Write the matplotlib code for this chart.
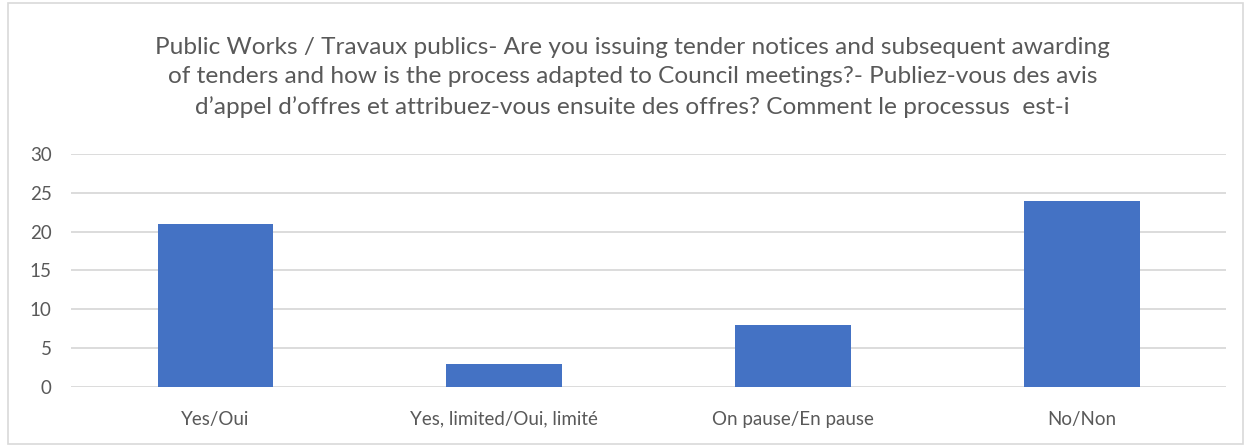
import matplotlib
matplotlib.use("Agg")
import matplotlib.pyplot as plt
from matplotlib.patches import Rectangle

categories = ["Yes/Oui", "Yes, limited/Oui, limité", "On pause/En pause", "No/Non"]
values = [21, 3, 8, 24]
yticks = [0, 5, 10, 15, 20, 25, 30]
title = ("Public Works / Travaux publics- Are you issuing tender notices and subsequent awarding\n"
         "of tenders and how is the process adapted to Council meetings?- Publiez-vous des avis\n"
         "d\u2019appel d\u2019offres et attribuez-vous ensuite des offres? Comment le processus  est-i")

plt.rcParams['font.family'] = ['Lato', 'DejaVu Sans']
text_color = '#595959'

fig = plt.figure(figsize=(12.5, 4.46), dpi=100)
ax = fig.add_axes([0.0568, 0.1323, 0.9242, 0.5224])

x = range(len(categories))
ax.bar(x, values, width=0.4, color='#4472C4', zorder=3)
ax.set_xlim(-0.5, len(categories) - 0.5)
ax.set_ylim(0, 30)
ax.set_yticks(yticks)
ax.set_xticks(list(x))
ax.set_xticklabels(categories)
ax.yaxis.grid(True, color='#D9D9D9', linewidth=1.3, zorder=0)
for s in ax.spines.values():
    s.set_visible(False)
ax.tick_params(length=0, labelsize=13.5, colors=text_color)
ax.tick_params(axis='y', pad=14)
ax.tick_params(axis='x', pad=17)

fig.text(0.506, 0.826, title, ha='center', va='center', fontsize=17.6,
         color=text_color, linespacing=1.47)

# chart border
fig.patches.append(Rectangle((0.006, 0.005), 0.988, 0.988, transform=fig.transFigure,
                             fill=False, edgecolor='#D9D9D9', linewidth=1.2))

fig.savefig('out.png', dpi=100)
